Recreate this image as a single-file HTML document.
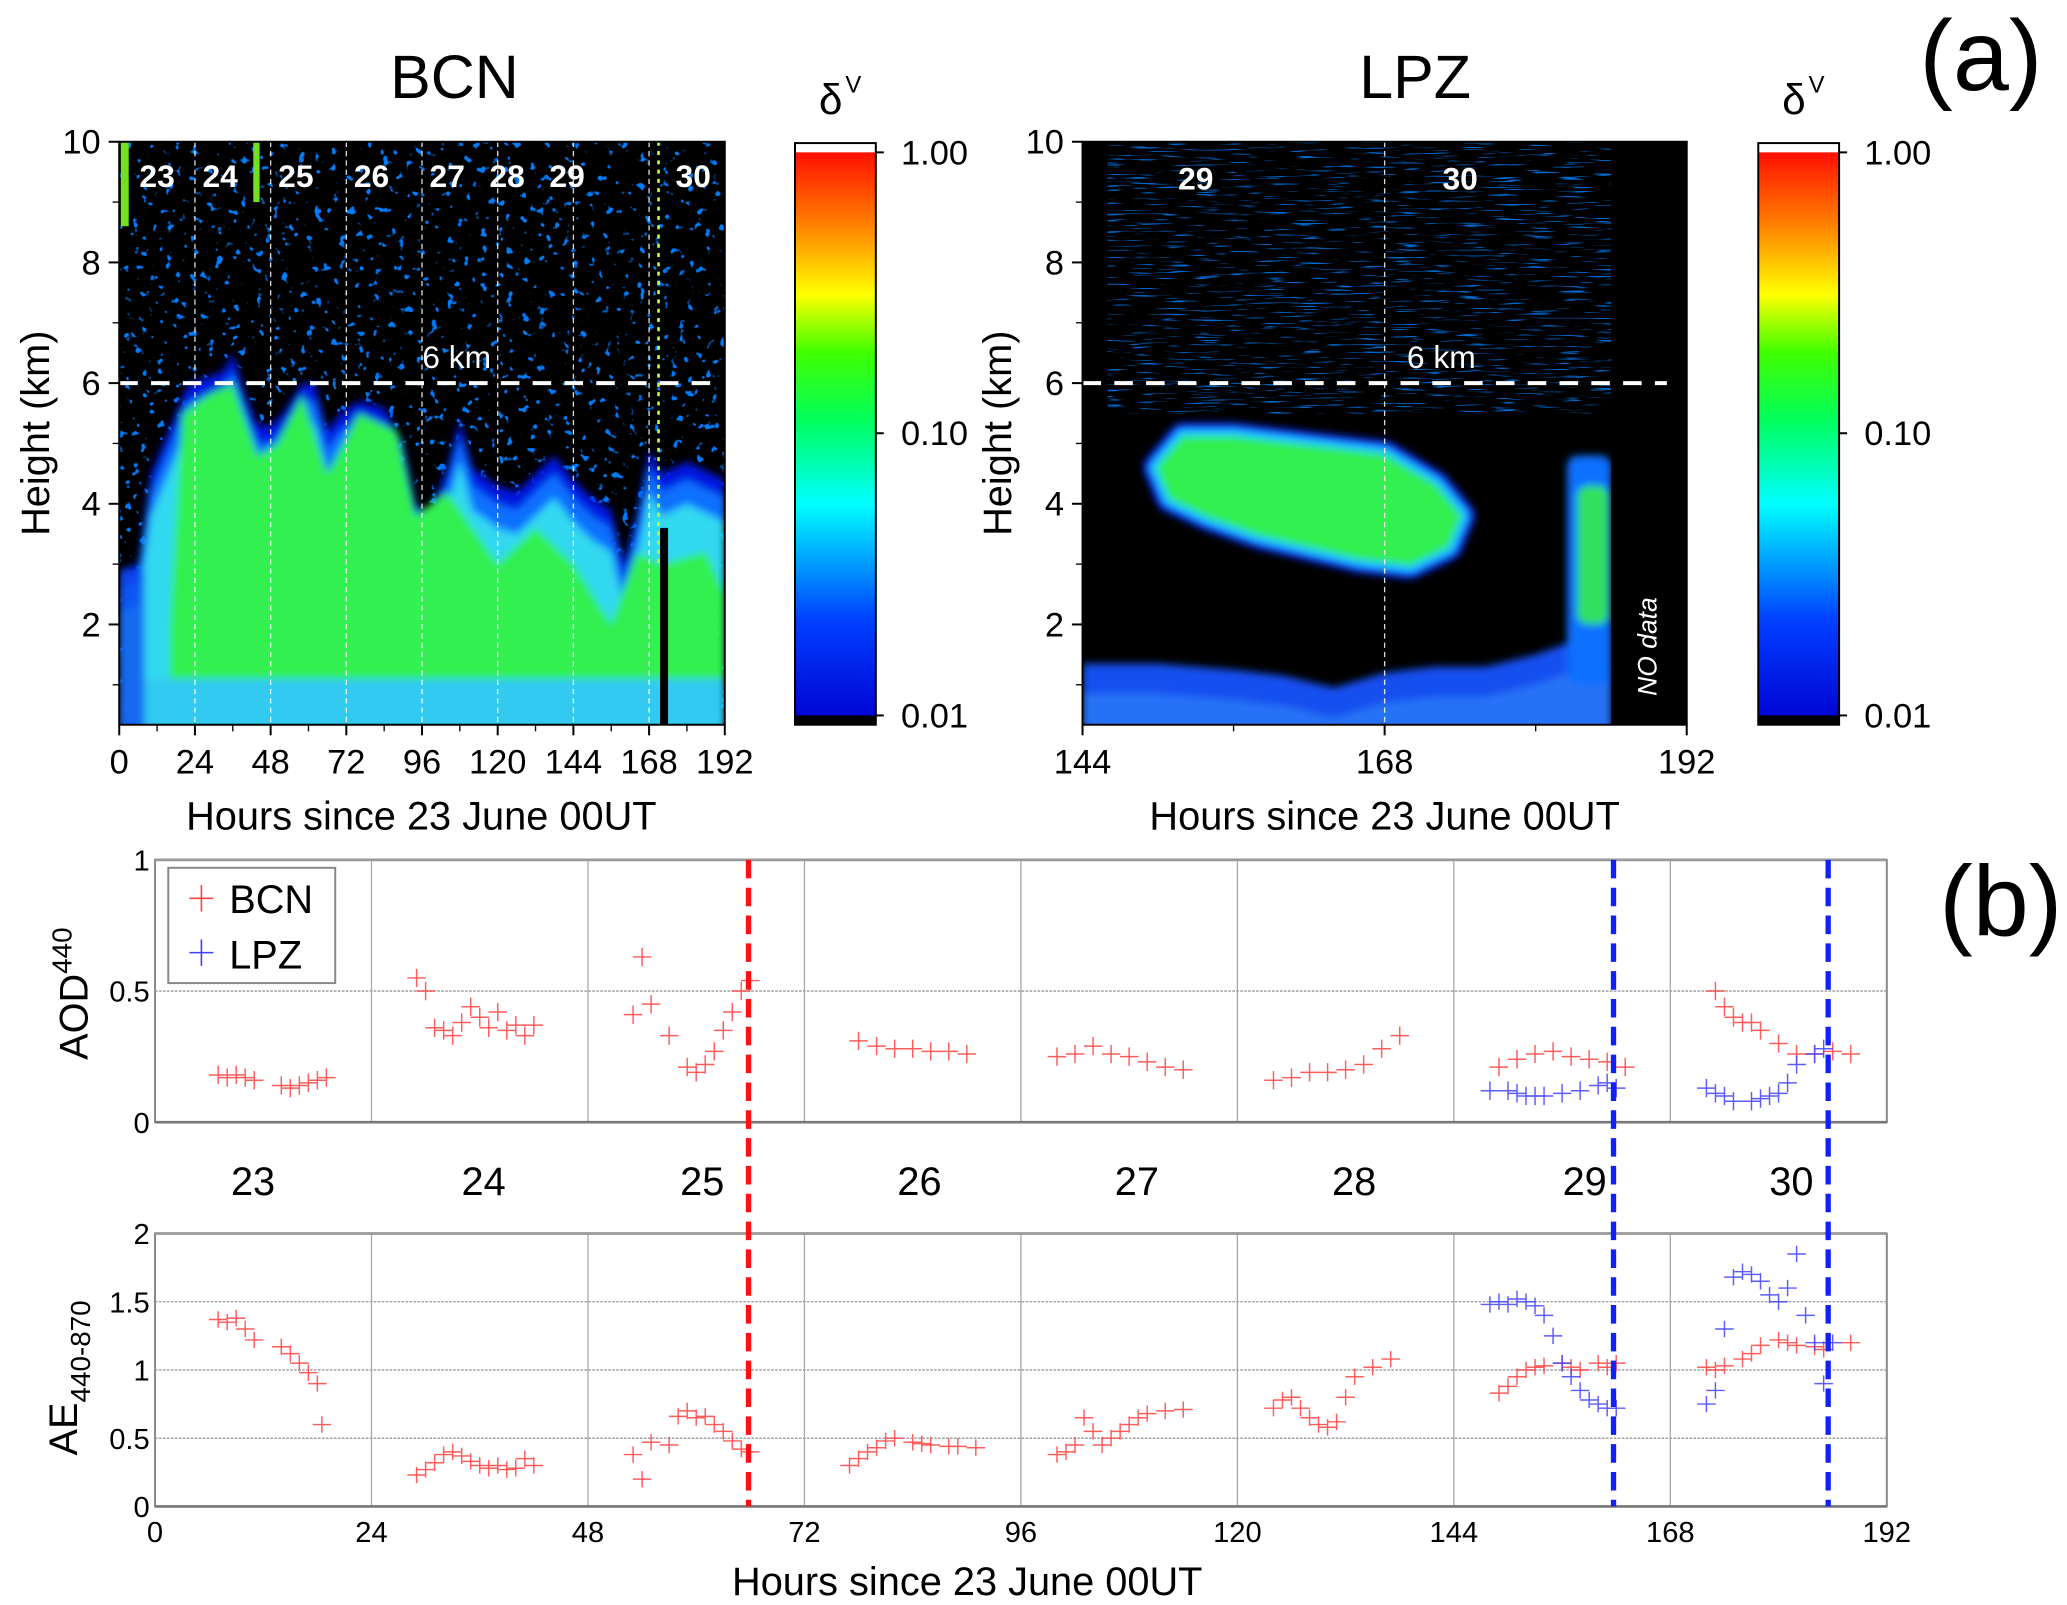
<!DOCTYPE html>
<html><head><meta charset="utf-8"><style>
html,body{margin:0;padding:0;background:#fff}
svg{display:block}
text{font-family:"Liberation Sans",sans-serif}
</style></head><body>
<svg id="fig" width="2067" height="1605" viewBox="0 0 1560 1211.4" preserveAspectRatio="none" xmlns="http://www.w3.org/2000/svg">
<defs>
<linearGradient id="cbar" x1="0" y1="1" x2="0" y2="0">
<stop offset="0" stop-color="#0000d0"/><stop offset="0.18" stop-color="#0040ff"/>
<stop offset="0.38" stop-color="#00ffff"/><stop offset="0.52" stop-color="#00ff60"/>
<stop offset="0.64" stop-color="#40ff00"/><stop offset="0.74" stop-color="#ffff00"/>
<stop offset="0.86" stop-color="#ff8000"/><stop offset="1" stop-color="#ff0000"/>
</linearGradient>
<filter id="speck" x="0" y="0" width="100%" height="100%">
<feTurbulence type="fractalNoise" baseFrequency="0.16" numOctaves="2" seed="3"/>
<feColorMatrix type="matrix" values="0 0 0 0 0  0 0 0 0 0.2  0 0 0 0 0.95  12 0 0 0 -7.8"/>
</filter>
<filter id="streak" x="0" y="0" width="100%" height="100%">
<feTurbulence type="fractalNoise" baseFrequency="0.04 0.7" numOctaves="2" seed="5"/>
<feColorMatrix type="matrix" values="0 0 0 0 0  0 0 0 0 0.2  0 0 0 0 0.9  9 0 0 0 -5.6"/>
</filter>
<filter id="soft"><feGaussianBlur stdDeviation="3"/></filter>
<clipPath id="clipB"><rect x="90" y="107" width="457" height="440"/></clipPath>
<clipPath id="clipL"><rect x="817" y="107" width="456" height="440"/></clipPath>
</defs>
<g id="root"></g>
</svg>
<script>
// ---- heatmap layer data (hours, km) ----
const bcnHours = [0,6,10,18,22,28,33,36,40,44,48,52,58,62,66,70,76,84,90,94,98,104,108,112,120,126,132,138,144,150,156,160,164,168,172,180,192];
const bcnLayerTop = [2.9,3.0,4.5,5.5,6.0,6.1,6.2,6.5,5.8,5.3,5.3,5.5,6.0,6.0,5.2,5.5,5.7,5.6,5.0,4.0,3.8,4.6,5.4,4.6,4.3,4.2,4.5,4.8,4.4,4.1,3.9,3.0,3.8,4.9,4.5,4.7,4.4];
const bcnGreenHours = [16,20,28,36,44,50,58,66,76,88,94,104,120,132,144,156,164,172,186,192];
const bcnGreenTop = [2.0,5.5,5.8,6.0,4.8,5.0,5.8,4.5,5.5,5.2,3.8,4.2,3.0,3.6,3.0,2.0,3.2,3.0,3.2,2.5];
const lpzBlobHours = [150,152,156,160,164,168,172,174,173,170,166,162,158,154,151];
const lpzBlobTop = [4.6,5.1,5.1,5.0,4.9,4.8,4.3,3.8,3.3,3.0,3.1,3.3,3.5,3.8,4.1];
const lpzBaseHours = [144,150,156,160,164,168,172,176,180,184,186];
const lpzBaseTop = [1.35,1.35,1.25,1.15,0.95,1.2,1.3,1.3,1.5,1.8,1.9];
// ---- AOD / AE data ----
const bcnAodH = [7,8,9,10,11,14,15,16,17,18,19,29,30,31,32,33,34,35,36,37,38,39,40,41,42,53,54,55,57,59,60,61,62,63,64,65,66,78,80,82,84,86,88,90,100,102,104,106,108,110,112,114,124,126,128,130,132,134,136,138,149,151,153,155,157,159,161,163,173,174,175,176,177,178,180,182,184,186,188];
const bcnAod = [0.18,0.17,0.18,0.17,0.16,0.14,0.13,0.14,0.15,0.16,0.17,0.55,0.50,0.36,0.35,0.33,0.38,0.44,0.40,0.36,0.42,0.35,0.37,0.33,0.37,0.41,0.63,0.45,0.33,0.21,0.19,0.22,0.27,0.35,0.42,0.50,0.54,0.31,0.29,0.28,0.28,0.27,0.27,0.26,0.25,0.26,0.29,0.26,0.25,0.23,0.21,0.20,0.16,0.17,0.19,0.19,0.20,0.22,0.28,0.33,0.21,0.24,0.26,0.27,0.25,0.24,0.23,0.21,0.50,0.44,0.40,0.38,0.38,0.35,0.30,0.26,0.26,0.27,0.26];
const lpzAodH = [148,150,151,152,153,154,156,158,160,161,162,172,173,174,175,177,178,179,180,181,182,184,185];
const lpzAod = [0.12,0.12,0.11,0.10,0.10,0.10,0.11,0.12,0.14,0.15,0.13,0.13,0.11,0.10,0.08,0.08,0.09,0.10,0.11,0.15,0.22,0.26,0.28];
const bcnAeH = [7,8,9,10,11,14,15,16,17,18,18.5,29,30,31,32,33,34,35,36,37,38,39,40,41,42,53,54,55,57,58,59,60,61,62,63,64,65,66,77,78,79,80,81,82,84,85,86,88,89,91,100,101,102,103,104,105,106,107,108,109,110,112,114,124,125,126,127,128,129,130,131,132,133,135,137,149,150,151,152,153,154,156,157,158,160,161,162,172,173,174,176,177,178,180,181,182,184,185,188];
const bcnAe = [1.37,1.35,1.38,1.30,1.22,1.17,1.12,1.05,0.98,0.90,0.60,0.23,0.27,0.32,0.38,0.40,0.37,0.33,0.30,0.28,0.30,0.27,0.28,0.35,0.30,0.38,0.20,0.47,0.45,0.66,0.70,0.65,0.66,0.60,0.55,0.48,0.42,0.40,0.30,0.35,0.40,0.43,0.48,0.50,0.47,0.46,0.45,0.44,0.44,0.43,0.38,0.40,0.45,0.65,0.55,0.45,0.50,0.55,0.60,0.65,0.68,0.70,0.71,0.72,0.78,0.80,0.72,0.65,0.60,0.58,0.62,0.80,0.95,1.02,1.08,0.83,0.88,0.95,1.00,1.02,1.03,1.05,1.02,1.00,1.05,1.02,1.05,1.02,1.00,1.03,1.08,1.12,1.18,1.22,1.20,1.18,1.17,1.15,1.20];
const lpzAeH = [148,149,150,151,152,153,154,155,156,157,158,159,160,161,162,172,173,174,175,176,177,178,179,180,181,182,183,184,185,186];
const lpzAe = [1.48,1.50,1.48,1.52,1.50,1.47,1.40,1.25,1.05,0.95,0.85,0.78,0.75,0.72,0.72,0.75,0.85,1.30,1.68,1.72,1.70,1.65,1.55,1.50,1.60,1.85,1.40,1.20,0.90,1.20];
const aodTicks = [0,0.5,1];
const aeTicks = [0,0.5,1,1.5,2];
const hourTicks = [0,24,48,72,96,120,144,168,192];
const lpzTicks = [144,168,192];
const kmTicks = [2,4,6,8,10];
const dayLabels = ["23","24","25","26","27","28","29","30"];
const bcnDayHours = [12,32,56,80,104,123,142,182];
const lpzDayHours = [153,174];
const redLineHour = [65.8];
const blueLineHours = [161.7,185.5];

const NS="http://www.w3.org/2000/svg";
const root=document.getElementById('root');
function mk(tag,attrs,parent,text){const e=document.createElementNS(NS,tag);for(const k in attrs)e.setAttribute(k,attrs[k]);if(text!==undefined)e.textContent=text;(parent||root).appendChild(e);return e;}
function lin(d0,d1,r0,r1){return v=>r0+(v-d0)/(d1-d0)*(r1-r0);}

// ===== BCN heatmap =====
const bx=lin(0,192,90,547), by=lin(10,0,107,562.4);
const gB=mk('g',{'clip-path':'url(#clipB)'});


mk('rect',{x:90,y:107,width:457,height:440,fill:'#000'},gB);
const spB=mk('rect',{x:90,y:107,width:457,height:440,filter:'url(#speck)'},gB);


function areaPath(hs,tops,xf,yf,bottom,off){let d='M'+xf(hs[0])+','+yf(bottom);hs.forEach((h,i)=>{d+=' L'+xf(h)+','+yf(tops[i]-(off||0));});d+=' L'+xf(hs[hs.length-1])+','+yf(bottom)+'Z';return d;}
const gBs=mk('g',{filter:'url(#soft)'},gB);
let p=mk('path',{d:areaPath(bcnHours,bcnLayerTop,bx,by,0,0),fill:'#0018e0'},gBs);

p=mk('path',{d:areaPath(bcnHours,bcnLayerTop,bx,by,0,0.3),fill:'#1070ff'},gBs);

p=mk('path',{d:areaPath(bcnHours,bcnLayerTop,bx,by,0,0.7),fill:'#30d8f0'},gBs);

p=mk('path',{d:areaPath(bcnGreenHours,bcnGreenTop,bx,by,1.1,0),fill:'#30f050'},gBs);

p=mk('rect',{x:bx(0),y:by(1.1),width:bx(192)-bx(0),height:by(0)-by(1.1),fill:'#30c8f0',opacity:0.85},gBs);

mk('rect',{x:bx(0),y:by(2.9),width:bx(8)-bx(0),height:by(0)-by(2.9),fill:'#1050f0',opacity:0.8},gBs);
mk('rect',{x:bx(0.5),y:by(10),width:bx(3)-bx(0.5),height:by(8.6)-by(10),fill:'#70e020'},gB);
mk('rect',{x:bx(42.5),y:by(10),width:bx(44.5)-bx(42.5),height:by(9)-by(10),fill:'#70e020'},gB);
mk('line',{x1:bx(171),y1:by(10),x2:bx(171),y2:by(3),stroke:'#c0ff40','stroke-width':2,'stroke-dasharray':'3 4'},gB);
p=mk('rect',{x:bx(171.5),y:by(3.6),width:6,height:by(0)-by(3.6),fill:'#000'},gB);

hourTicks.slice(1,8).forEach(h=>{const l=mk('line',{x1:bx(h),y1:107,x2:bx(h),y2:547,stroke:'#fff','stroke-width':1,'stroke-dasharray':'4 3',opacity:0.85});
});
let l6=mk('line',{x1:90,y1:by(6),x2:540,y2:by(6),stroke:'#fff','stroke-width':3,'stroke-dasharray':'14 10'});

let t=mk('text',{x:bx(107),y:by(6.25),fill:'#fff','font-size':24,'text-anchor':'middle'},root,'6 km');

dayLabels.forEach((d,i)=>{const e=mk('text',{x:bx(bcnDayHours[i]),y:141,fill:'#fff','font-size':24,'font-weight':'bold','text-anchor':'middle'},root,d);
});
function frame(x0,y0,w,h,name){const r=mk('rect',{x:x0,y:y0,width:w,height:h,fill:'none',stroke:'#000','stroke-width':1.5});}
frame(90,107,457,440,'bcn-plot-frame');
hourTicks.forEach(h=>{mk('line',{x1:bx(h),y1:547,x2:bx(h),y2:555,stroke:'#000','stroke-width':1.5});
const e=mk('text',{x:bx(h),y:584,'font-size':26,'text-anchor':'middle'},root,String(h));});
for(let h=12;h<192;h+=24)mk('line',{x1:bx(h),y1:547,x2:bx(h),y2:552,stroke:'#000','stroke-width':1});
kmTicks.forEach(k=>{mk('line',{x1:82,y1:by(k),x2:90,y2:by(k),stroke:'#000','stroke-width':1.5});
const e=mk('text',{x:76,y:by(k)+9,'font-size':26,'text-anchor':'end'},root,String(k));});
[1,3,5,7,9].forEach(k=>mk('line',{x1:85,y1:by(k),x2:90,y2:by(k),stroke:'#000','stroke-width':1}));
t=mk('text',{x:0,y:0,'font-size':30,'text-anchor':'middle',transform:'translate(37,327) rotate(-90)'},root,'Height (km)');

t=mk('text',{x:318,y:626,'font-size':30,'text-anchor':'middle'},root,'Hours since 23 June 00UT');

t=mk('text',{x:343,y:74,'font-size':46,'text-anchor':'middle'},root,'BCN');


// ===== LPZ heatmap =====
const lx=lin(144,192,817,1273), ly=by;
const gL=mk('g',{'clip-path':'url(#clipL)'});


mk('rect',{x:817,y:107,width:456,height:440,fill:'#000'},gL);
const sp=mk('rect',{x:lx(146),y:ly(10),width:lx(186)-lx(146),height:ly(5.5)-ly(10),filter:'url(#streak)',opacity:0.85},gL);

const gLs=mk('g',{filter:'url(#soft)'},gL);
p=mk('path',{d:areaPath(lpzBaseHours,lpzBaseTop,lx,ly,0,0),fill:'#1450f0'},gLs);

p=mk('path',{d:areaPath(lpzBaseHours,lpzBaseTop,lx,ly,0,0.5),fill:'#3080f8',opacity:0.7},gLs);
function blob(off,fill,name){let d='';lpzBlobHours.forEach((h,i)=>{d+=(i?' L':'M')+lx(h)+','+ly(lpzBlobTop[i]);});d+='Z';const e=mk('path',{d:d,fill:fill,stroke:fill,'stroke-width':off,'stroke-linejoin':'round'},gLs);}
blob(22,'#0830ff','lpz-dust-outer');
blob(12,'#20c8ff','lpz-dust-mid');
blob(2,'#30f050','lpz-dust-core');
p=mk('rect',{x:lx(182.5),y:ly(4.8),width:lx(186)-lx(182.5),height:ly(1)-ly(4.8),rx:8,fill:'#1070ff'},gLs);

mk('rect',{x:lx(183.3),y:ly(4.3),width:lx(186)-lx(183.5),height:ly(2)-ly(4.3),rx:8,fill:'#30e060'},gLs);
mk('rect',{x:lx(186),y:107,width:lx(192)-lx(186),height:440,fill:'#000'},gL);
mk('line',{x1:lx(168),y1:107,x2:lx(168),y2:547,stroke:'#fff','stroke-width':1,'stroke-dasharray':'4 3',opacity:0.85});
l6=mk('line',{x1:817,y1:ly(6),x2:1258,y2:ly(6),stroke:'#fff','stroke-width':3,'stroke-dasharray':'14 10'});

t=mk('text',{x:lx(172.5),y:ly(6.25),fill:'#fff','font-size':24,'text-anchor':'middle'},root,'6 km');

["29","30"].forEach((d,i)=>{const e=mk('text',{x:lx(lpzDayHours[i]),y:143,fill:'#fff','font-size':24,'font-weight':'bold','text-anchor':'middle'},root,d);});
t=mk('text',{x:0,y:0,fill:'#fff','font-size':20,'font-style':'italic','text-anchor':'middle',transform:'translate(1250,488) rotate(-90)'},root,'NO data');

frame(817,107,456,440,'lpz-plot-frame');
lpzTicks.forEach(h=>{mk('line',{x1:lx(h),y1:547,x2:lx(h),y2:555,stroke:'#000','stroke-width':1.5});
const e=mk('text',{x:lx(h),y:584,'font-size':26,'text-anchor':'middle'},root,String(h));});
[156,180].forEach(h=>mk('line',{x1:lx(h),y1:547,x2:lx(h),y2:552,stroke:'#000'}));
kmTicks.forEach(k=>{mk('line',{x1:809,y1:ly(k),x2:817,y2:ly(k),stroke:'#000','stroke-width':1.5});
const e=mk('text',{x:803,y:ly(k)+9,'font-size':26,'text-anchor':'end'},root,String(k));});
[1,3,5,7,9].forEach(k=>mk('line',{x1:812,y1:ly(k),x2:817,y2:ly(k),stroke:'#000'}));
t=mk('text',{x:0,y:0,'font-size':30,'text-anchor':'middle',transform:'translate(763,327) rotate(-90)'},root,'Height (km)');

t=mk('text',{x:1045,y:626,'font-size':30,'text-anchor':'middle'},root,'Hours since 23 June 00UT');

t=mk('text',{x:1068,y:74,'font-size':46,'text-anchor':'middle'},root,'LPZ');


// ===== colorbars =====
function colorbar(x0,name){
 const g=mk('g',{});
 mk('rect',{x:x0,y:108,width:61,height:439,fill:'url(#cbar)'},g);
 mk('rect',{x:x0,y:108,width:61,height:7,fill:'#fff'},g);
 mk('rect',{x:x0,y:540,width:61,height:7,fill:'#000'},g);
 mk('rect',{x:x0,y:108,width:61,height:439,fill:'none',stroke:'#000','stroke-width':1.5},g);
 [['1.00',115],['0.10',327],['0.01',540]].forEach(([s,y])=>{mk('line',{x1:x0+61,y1:y,x2:x0+67,y2:y,stroke:'#000','stroke-width':1.5},g);mk('text',{x:x0+80,y:y+9,'font-size':26},g,s);});
 mk('text',{x:x0+18,y:86,'font-size':32,'font-family':'Liberation Serif, serif'},g,'δ');
 mk('text',{x:x0+38,y:70,'font-size':18},g,'V');
}
colorbar(600,'bcn-colorbar');
colorbar(1327,'lpz-colorbar');
t=mk('text',{x:1495,y:68,'font-size':76,'text-anchor':'middle'},root,'(a)');

t=mk('text',{x:1510,y:706,'font-size':76,'text-anchor':'middle'},root,'(b)');


// ===== bottom panels =====
const hx=lin(0,192,117,1424);
const ay=lin(0,1,847,649), ey=lin(0,2,1137,931);
function gridPanel(yf,ticks,y0,y1,name){
 const g=mk('g',{});
 mk('rect',{x:117,y:y0,width:1307,height:y1-y0,fill:'#fff',stroke:'#888','stroke-width':1.5},g);
 hourTicks.slice(1,8).forEach(h=>mk('line',{x1:hx(h),y1:y0,x2:hx(h),y2:y1,stroke:'#aaa','stroke-width':1},g));
 ticks.forEach(v=>{if(v>ticks[0]&&v<ticks[ticks.length-1])mk('line',{x1:117,y1:yf(v),x2:1424,y2:yf(v),stroke:'#999','stroke-width':1,'stroke-dasharray':'2 1'},g);
  mk('text',{x:113,y:yf(v)+8,'font-size':22,'text-anchor':'end'},g,String(v));});
 mk('line',{x1:117,y1:y1,x2:1424,y2:y1,stroke:'#777','stroke-width':2},g);
 mk('line',{x1:117,y1:y0,x2:1424,y2:y0,stroke:'#999','stroke-width':2},g);
}
gridPanel(ay,aodTicks,649,847,'aod-panel');
gridPanel(ey,aeTicks,931,1137,'ae-panel');
hourTicks.forEach(h=>{const e=mk('text',{x:hx(h),y:1164,'font-size':22,'text-anchor':'middle'},root,String(h));});
t=mk('text',{x:730,y:1204,'font-size':30,'text-anchor':'middle'},root,'Hours since 23 June 00UT');

t=mk('text',{x:0,y:0,'font-size':30,'text-anchor':'middle',transform:'translate(66,750) rotate(-90)'},root);

t.innerHTML='AOD<tspan dy="-12" font-size="21">440</tspan>';
t=mk('text',{x:0,y:0,'font-size':30,'text-anchor':'middle',transform:'translate(58,1040) rotate(-90)'},root);

t.innerHTML='AE<tspan dy="10" font-size="21">440-870</tspan>';
const dayX=[191,365,530,694,858,1022,1196,1352];
dayLabels.forEach((d,i)=>{const e=mk('text',{x:dayX[i],y:902,'font-size':30,'text-anchor':'middle'},root,d);});
function plusSeries(hs,vs,yf,col,err,name){
 const g=mk('g',{stroke:col,'stroke-width':1.1,opacity:0.85});
 hs.forEach((h,i)=>{const x=hx(h),y=yf(vs[i]),e=yf(0)-yf(err);
  const m=mk('path',{d:`M${x-7},${y} H${x+7} M${x},${y-e} V${y+e}`},g);
  
  });
}
plusSeries(bcnAodH,bcnAod,ay,'#ff4040',0.035,'bcn-aod-series');
plusSeries(lpzAodH,lpzAod,ay,'#4040ff',0.035,'lpz-aod-series');
plusSeries(bcnAeH,bcnAe,ey,'#ff4040',0.06,'bcn-ae-series');
plusSeries(lpzAeH,lpzAe,ey,'#4040ff',0.06,'lpz-ae-series');
redLineHour.forEach(h=>{const e=mk('line',{x1:hx(h),y1:649,x2:hx(h),y2:1137,stroke:'#ff1010','stroke-width':4,'stroke-dasharray':'14 7'});});
blueLineHours.forEach(h=>{const e=mk('line',{x1:hx(h),y1:649,x2:hx(h),y2:1137,stroke:'#1020ff','stroke-width':4,'stroke-dasharray':'14 7'});});
const lg=mk('g',{});
mk('rect',{x:127,y:655,width:126,height:87,fill:'#fff',stroke:'#888','stroke-width':1.5},lg);
let le=mk('g',{},lg);
mk('path',{d:'M143,678 H161 M152,668 V688',stroke:'#ff4040','stroke-width':1.2},le);
mk('text',{x:173,y:689,'font-size':30},le,'BCN');
le=mk('g',{},lg);
mk('path',{d:'M143,719 H161 M152,709 V729',stroke:'#4040ff','stroke-width':1.2},le);
mk('text',{x:173,y:731,'font-size':30},le,'LPZ');
</script>
</body></html>
